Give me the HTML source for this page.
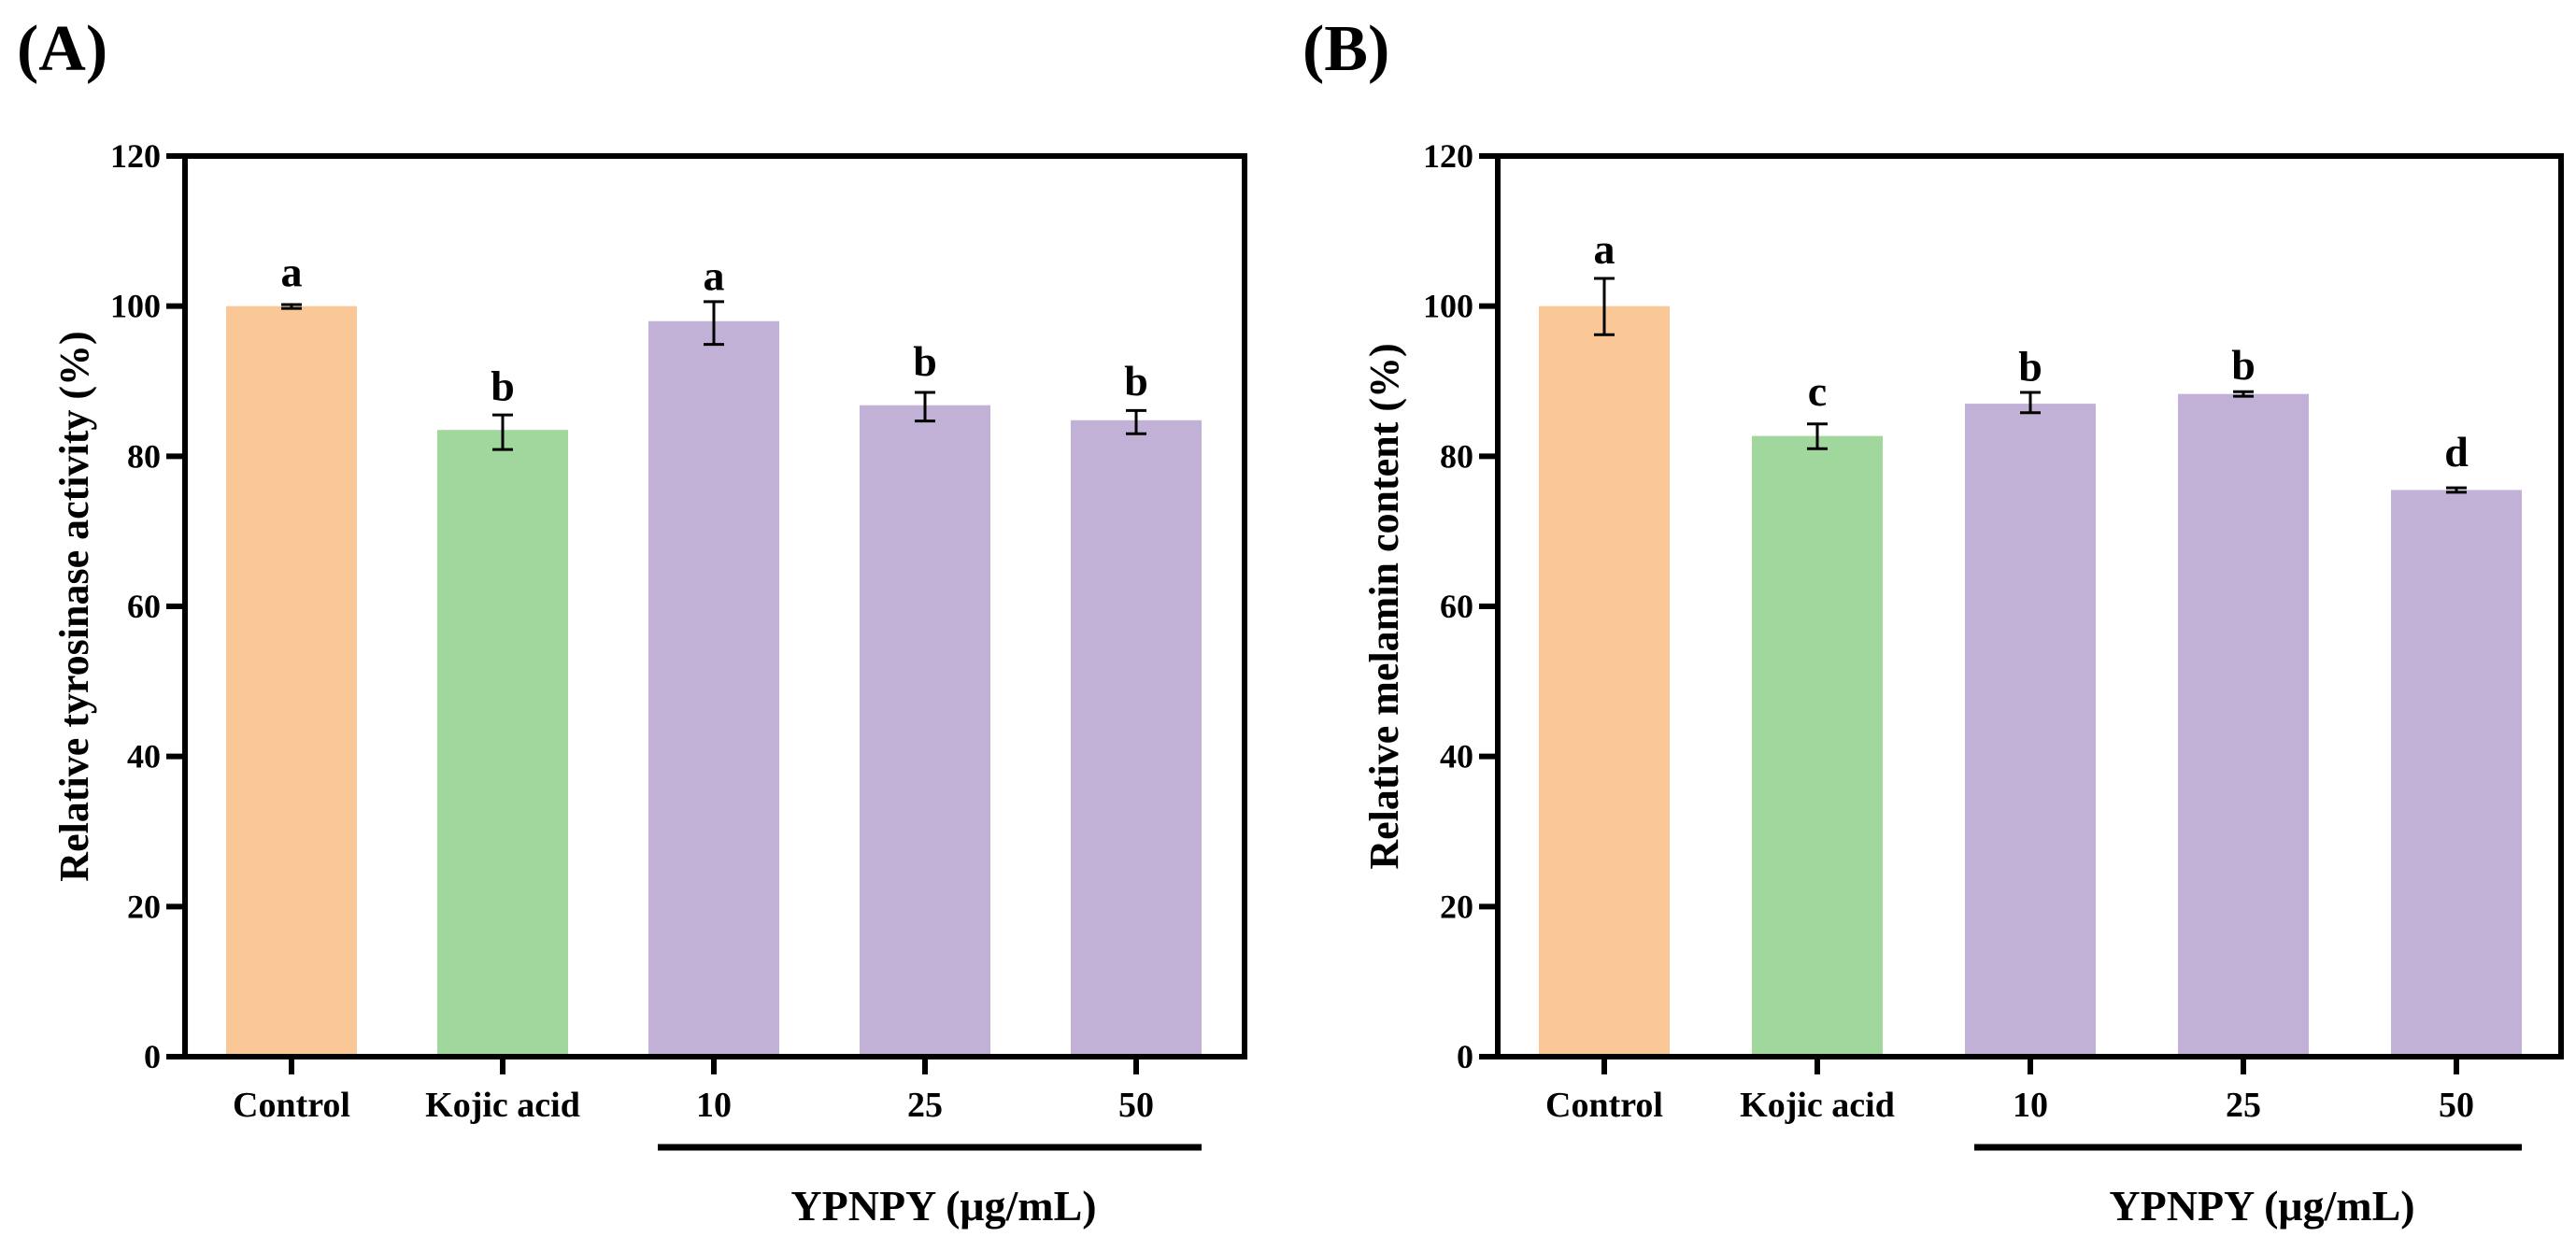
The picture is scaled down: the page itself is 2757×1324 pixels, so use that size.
<!DOCTYPE html>
<html><head><meta charset="utf-8"><style>
body{margin:0;background:#fff}
svg{display:block;font-family:"Liberation Serif",serif;font-weight:bold}
</style></head><body>
<svg id="s" width="2757" height="1324" xmlns="http://www.w3.org/2000/svg"></svg>
<script>
const categories=["Control","Kojic acid","10","25","50"];
const colors=["#fac897","#9fd79d","#c2b1d6","#c2b1d6","#c2b1d6"];
const yTicks=[0,20,40,60,80,100,120];
const valuesA=[100,83.5,98,86.8,84.8];
const errLoA=[99.7,80.9,94.9,84.7,83.0];
const errHiA=[100.2,85.5,100.6,88.5,86.1];
const lettersA=["a","b","a","b","b"];
const letterPosA=[104.4,89.2,103.9,92.5,89.9];
const valuesB=[100,82.7,87,88.3,75.5];
const errLoB=[96.2,81,85.8,88.0,75.2];
const errHiB=[103.7,84.3,88.5,88.6,75.8];
const lettersB=["a","c","b","b","d"];
const letterPosB=[107.4,88.5,91.8,92.0,80.4];

const svg=document.getElementById('s');
const NS="http://www.w3.org/2000/svg";
function mk(tag,attrs,text){const e=document.createElementNS(NS,tag);for(const k in attrs)e.setAttribute(k,attrs[k]);if(text!==undefined)e.textContent=text;svg.appendChild(e);return e;}

function panel(p){
  const top=167,bot=1131;
  const y=v=>bot-(v/120)*(bot-top);
  const x=i=>p.x0+i*p.step;
  const t=mk('text',{x:p.labX,y:75,'font-size':70});t.textContent=p.label;
  
  
  for(let i=0;i<categories.length;i++){
    const b=mk('rect',{x:x(i)-70,y:y(p.vals[i]),width:140,height:bot-y(p.vals[i]),fill:colors[i]});
    
    
    const cx=x(i),hi=y(p.hi[i]),lo=y(p.lo[i]);
    const g=mk('path',{d:`M${cx},${hi}V${lo}M${cx-11},${hi}H${cx+11}M${cx-11},${lo}H${cx+11}`,stroke:'#000','stroke-width':3,fill:'none'});
    
    
    const l=mk('text',{x:cx,y:y(p.letPos[i])+14,'font-size':46,'text-anchor':'middle'},p.let[i]);
    
    
    mk('line',{x1:cx,y1:bot,x2:cx,y2:bot+19,stroke:'#000','stroke-width':6});
    const c=mk('text',{x:cx,y:bot+64,'font-size':38,'text-anchor':'middle'},categories[i]);
    
    
  }
  yTicks.forEach(v=>{
    mk('line',{x1:p.ax-20,y1:y(v),x2:p.ax,y2:y(v),stroke:'#000','stroke-width':6});
    const tl=mk('text',{x:p.ax-26,y:y(v)+12,'font-size':36,'text-anchor':'end'},String(v));
    
    
  });
  const fr=mk('rect',{x:p.ax,y:top,width:p.ar-p.ax,height:bot-top,fill:'none',stroke:'#000','stroke-width':6});
  
  
  const yt=mk('text',{transform:`translate(${p.ytX},${(top+bot)/2-0}) rotate(-90)`,'font-size':44,'text-anchor':'middle'},p.ytitle);
  
  
  mk('line',{x1:x(2)-60,y1:1228,x2:x(4)+70,y2:1228,stroke:'#000','stroke-width':7});
  const xt=mk('text',{x:(x(2)+x(4))/2+20,y:1306,'font-size':46,'text-anchor':'middle'},'YPNPY (μg/mL)');
  
  
}
panel({id:'a',label:'(A)',labX:18,x0:312,step:226,ax:198,ar:1332,ytX:94,ytitle:'Relative tyrosinase activity (%)',vals:valuesA,lo:errLoA,hi:errHiA,let:lettersA,letPos:letterPosA});
panel({id:'b',label:'(B)',labX:1394,x0:1717,step:228,ax:1603,ar:2741,ytX:1496,ytitle:'Relative melamin content (%)',vals:valuesB,lo:errLoB,hi:errHiB,let:lettersB,letPos:letterPosB});
</script>
</body></html>
